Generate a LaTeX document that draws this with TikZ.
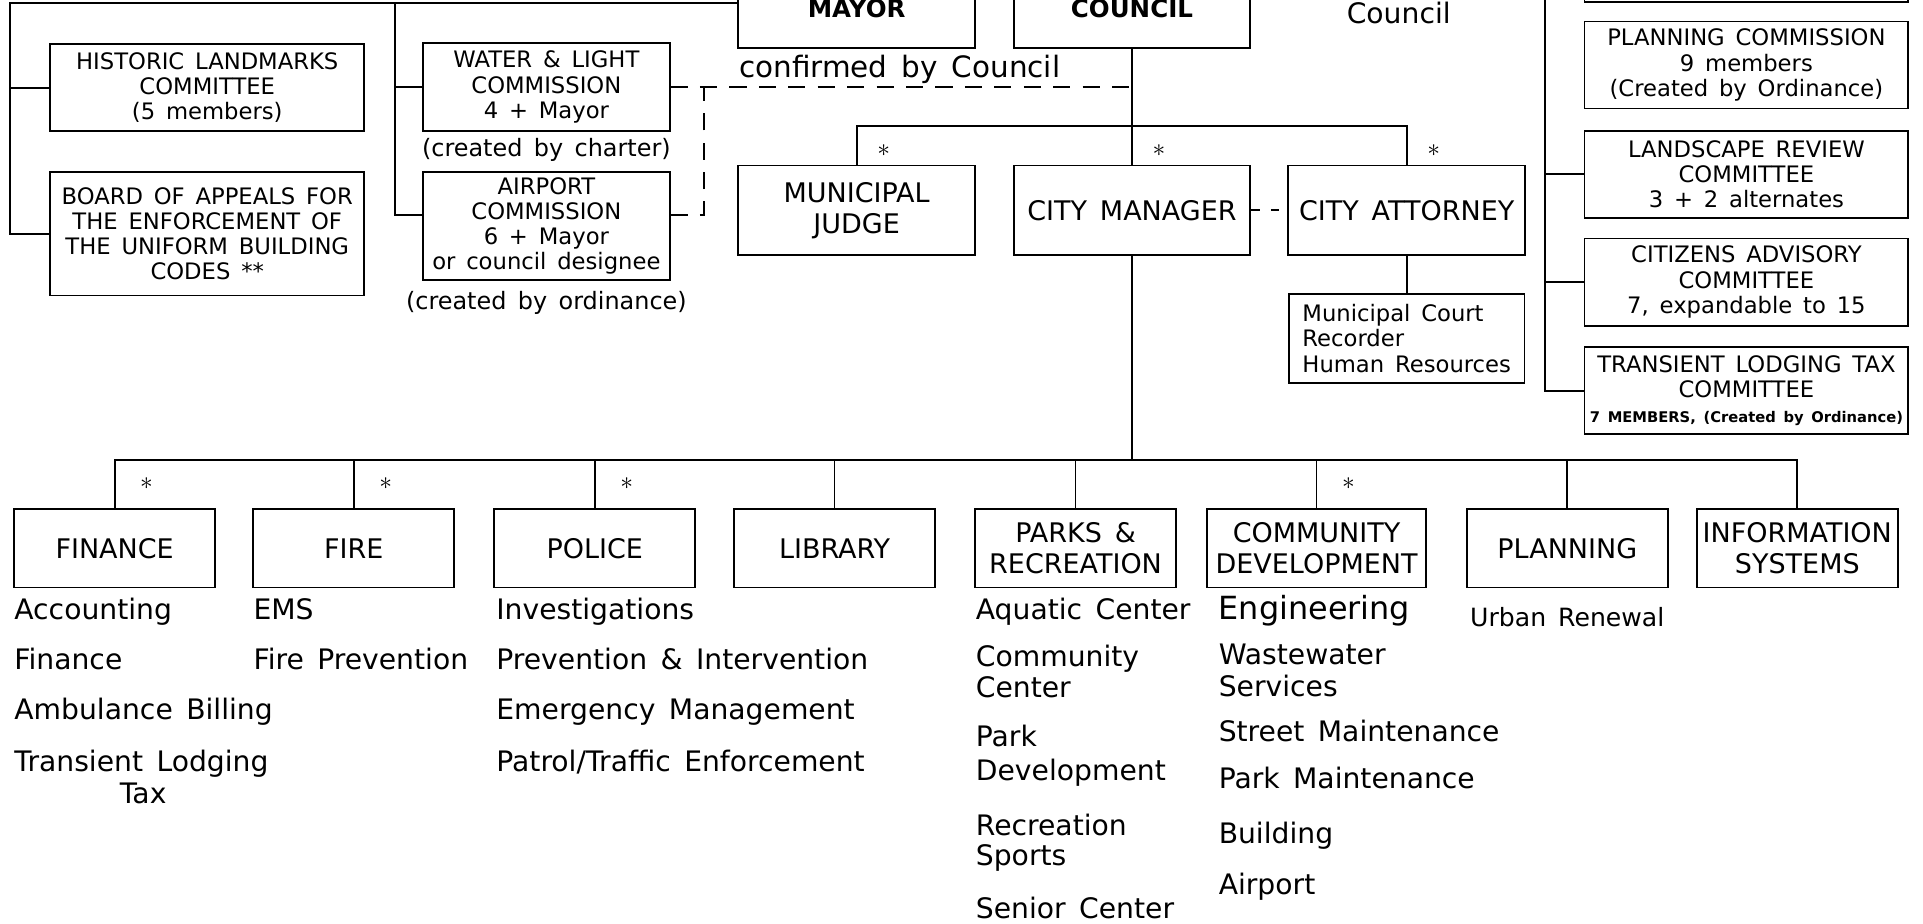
\documentclass[tikz,border=0pt]{standalone}
\usepackage{fontspec}
\setmainfont{DejaVu Sans}[WordSpace=1.5]
\newcommand\fsz[2]{\fontsize{#1}{#2}\selectfont}

\begin{document}
\begin{tikzpicture}[x=1pt,y=-1pt,line width=1.5pt,
	orgbox/.style={draw,inner sep=0pt,align=center,font=\fsz{18.5}{20.5}},
	topbox/.style={orgbox,minimum width=193pt,minimum height=73pt,font=\fsz{22}{25.5}},
	deptbox/.style={orgbox,minimum width=164pt,minimum height=64pt,font=\fsz{22}{26}},
	commbox/.style={orgbox,minimum width=264pt,minimum height=71pt},
	duty/.style={anchor=base west,inner sep=0pt,font=\fsz{23}{26}},
	note/.style={inner sep=0pt,font=\fsz{19.5}{22}},
	star/.style={inner sep=0pt,font=\fsz{22}{22}},
	link/.style={dash pattern=on 14pt off 10pt}]
	\useasboundingbox (0,0) rectangle (1568,753);
	\clip (0,0) rectangle (1568,753);

	% elected
	\node[topbox] (mayor) at (698.5,2.5) {};
	\node[topbox] (council) at (923,2.5) {};
	\node[anchor=base,inner sep=0pt,font=\fsz{20}{24}\bfseries] (mayor-name) at ([yshift=-12pt]mayor.center) {MAYOR};
	\node[anchor=base,inner sep=0pt,font=\fsz{20}{24}\bfseries] (council-name) at ([yshift=-12pt]council.center) {COUNCIL};
	\node[anchor=base,inner sep=0pt,font=\fsz{23}{26}] (cc) at (1140.5,19) {Council};
	\node[anchor=base west,inner sep=0pt,font=\fsz{24}{28}] (conf) at (602,63) {confirmed by Council};

	% boards and commissions
	\node[commbox,minimum width=256pt] (hlc) at (169,71.5) {HISTORIC LANDMARKS\\COMMITTEE\\(5 members)};
	\node[commbox,minimum width=256pt,minimum height=101pt] (boa) at (169,190.5) {BOARD OF APPEALS FOR\\THE ENFORCEMENT OF\\THE UNIFORM BUILDING\\CODES **};
	\node[commbox,minimum width=201pt,minimum height=72pt] (wlc) at (445.5,71) {WATER \& LIGHT\\COMMISSION\\4 + Mayor};
	\node[note] (wlcnote) at (445.5,122) {(created by charter)};
	\node[commbox,minimum width=201pt,minimum height=88pt] (apc) at (445.5,184) {AIRPORT\\COMMISSION\\6 + Mayor\\or council designee};
	\node[note] (apcnote) at (445.5,247) {(created by ordinance)};

	\node[commbox,minimum height=60pt] (upper) at (1424,-28.5) {};
	\node[commbox] (pc) at (1424,53) {PLANNING COMMISSION\\9 members\\(Created by Ordinance)};
	\node[commbox] (lrc) at (1424,142) {LANDSCAPE REVIEW\\COMMITTEE\\3 + 2 alternates};
	\node[commbox] (cac) at (1424,230) {CITIZENS ADVISORY\\COMMITTEE\\7, expandable to 15};
	\node[commbox] (tlt) at (1424,318.5) {TRANSIENT LODGING TAX\\COMMITTEE\\{\fsz{12}{14}\bfseries 7 MEMBERS, (Created by Ordinance)}};

	% appointed officers
	\node[topbox] (judge) at (698.5,171.5) {MUNICIPAL\\JUDGE};
	\node[topbox] (cmgr) at (923,171.5) {CITY MANAGER};
	\node[topbox] (catty) at (1147,171.5) {CITY ATTORNEY};
	\node[orgbox,minimum width=192pt,minimum height=72pt,align=left] (cadmin) at (1147,276) {Municipal Court\\Recorder\\Human Resources};

	% departments
	\node[deptbox] (fin) at (93.5,447) {FINANCE};
	\node[deptbox] (fire) at (288.5,447) {FIRE};
	\node[deptbox] (pol) at (485,447) {POLICE};
	\node[deptbox] (lib) at (680.5,447) {LIBRARY};
	\node[deptbox] (parks) at (877,447) {PARKS \&\\RECREATION};
	\node[deptbox,minimum width=179pt] (cdev) at (1073.5,447) {COMMUNITY\\DEVELOPMENT};
	\node[deptbox] (plan) at (1278,447) {PLANNING};
	\node[deptbox] (infosys) at (1465.5,447) {INFORMATION\\SYSTEMS};

	\foreach \y/\t in {505/Accounting,546/Finance,587/Ambulance Billing,629/Transient Lodging}
		\node[duty] (fin-\y) at (11,\y) {\t};
	\node[duty] (fin-tax) at (97,655) {Tax};
	\foreach \y/\t in {505/EMS,546/Fire Prevention}
		\node[duty] (fire-\y) at (206,\y) {\t};
	\foreach \y/\t in {505/Investigations,546/Prevention \& Intervention,587/Emergency Management,629/{Patrol/Traffic Enforcement}}
		\node[duty] (pol-\y) at (404,\y) {\t};
	\foreach \y/\t in {505/Aquatic Center,543.5/Community,569/Center,609/Park,636/Development,681/Recreation,706/Sports,749/Senior Center}
		\node[duty] (parks-\y) at (795,\y) {\t};
	\node[duty,font=\fsz{26}{28}] (cdev-505) at (993,505) {Engineering};
	\foreach \y/\t in {542/Wastewater,568/Services,605/Street Maintenance,643/Park Maintenance,688/Building,729/Airport}
		\node[duty] (cdev-\y) at (993,\y) {\t};
	\node[duty,font=\fsz{20.5}{24}] (plan-511) at (1198,511) {Urban Renewal};

	% lines of authority
	\coordinate (lbus) at (8,0);
	\coordinate (mbus) at (322,0);
	\coordinate (rbus) at (1260,-10);
	\coordinate (tbus) at (0,103);
	\coordinate (dbus) at (0,375);
	\coordinate (tee) at (574,0);

	\draw (mayor.west) -| (lbus |- boa.west) -- (boa.west);
	\draw (lbus |- hlc.west) -- (hlc.west);
	\draw (mbus |- mayor.west) |- ([yshift=9pt]apc.west);
	\draw (mbus |- wlc.west) -- (wlc.west);
	\draw (rbus) |- (tlt.west);
	\draw (rbus |- lrc.west) -- (lrc.west);
	\draw (rbus |- cac.west) -- (cac.west);

	\draw (council.south) -- (cmgr.north);
	\draw (judge.north) |- (council.south |- tbus) -| (catty.north);
	\draw (catty.south) -- (cadmin.north);
	\draw[link] (wlc.east) -- (wlc.east -| council.south);
	\draw[link] ([yshift=9pt]apc.east) -| (tee |- wlc.east);
	\draw[dash pattern=on 7pt off 9pt] (cmgr.east) -- (catty.west);

	\draw (cmgr.south) -- (cmgr.south |- dbus);
	\draw (fin.north) |- (dbus -| infosys.north) -- (infosys.north);
	\foreach \d in {fire,pol,lib,parks,cdev,plan}
		\draw (\d.north) -- (\d.north |- dbus);

	\foreach \n in {judge,cmgr,catty}
		\node[star] (\n-star) at ([xshift=22pt,yshift=11.5pt]\n.north) {$\ast$};
	\foreach \n in {fin,fire,pol,cdev}
		\node[star] (\n-star) at ([xshift=26pt,yshift=20pt]\n.north) {$\ast$};
\end{tikzpicture}
\end{document}
